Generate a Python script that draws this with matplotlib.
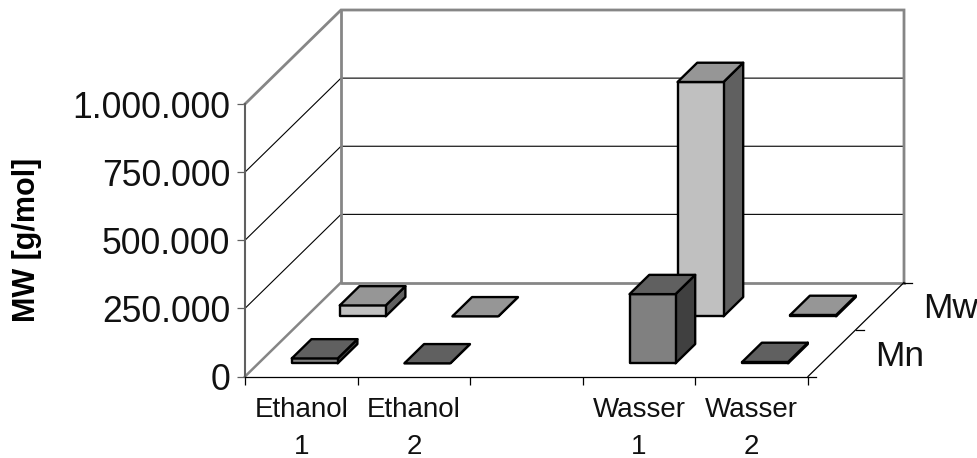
import matplotlib
matplotlib.use("Agg")
import matplotlib.pyplot as plt
from matplotlib.patches import Polygon

categories = ["Ethanol\n1", "Ethanol\n2", "", "Wasser\n1", "Wasser\n2"]
series_names = ["Mn", "Mw"]
mn_values = [18000, 0, None, 254000, 5000]
mw_values = [40000, 0, None, 860000, 5000]
y_ticks = [0, 250000, 500000, 750000, 1000000]
y_tick_labels = ["0", "250.000", "500.000", "750.000", "1.000.000"]

plt.rcParams["font.family"] = ["Liberation Sans", "DejaVu Sans"]
W, H = 978, 458
fig = plt.figure(figsize=(W / 100, H / 100), dpi=100)
L, R, B, T = 245, 808, 376.5, 104
ax = fig.add_axes([L / W, 1 - B / H, (R - L) / W, (B - T) / H])
ax.set_xlim(0, 5)
ax.set_ylim(0, 1000000)
ax.patch.set_alpha(0)

PX_X = (R - L) / 5
PX_Y = (B - T) / 1000000
DEPTH_X, DEPTH_Y = 96 / PX_X, 94 / PX_Y


def proj(x, v, d):
    return (x + d * DEPTH_X, v + d * DEPTH_Y)


GRID = "#000000"
WALL = "#868686"
for v in y_ticks[1:-1]:
    a, b, c = proj(0, v, 0), proj(0, v, 1), proj(5, v, 1)
    ax.plot([a[0], b[0], c[0]], [a[1], b[1], c[1]], color=GRID, lw=0.8, clip_on=False, zorder=1)
# walls
a, b, c, d = proj(0, 1000000, 0), proj(0, 1000000, 1), proj(5, 1000000, 1), proj(5, 0, 1)
e, f, g = proj(0, 0, 1), proj(0, 0, 0), proj(5, 0, 1)
ax.plot([a[0], b[0], c[0], d[0]], [a[1], b[1], c[1], d[1]], color=WALL, lw=2.0, clip_on=False, zorder=2, solid_joinstyle="miter")
ax.plot([b[0], e[0], g[0]], [b[1], e[1], g[1]], color=WALL, lw=2.0, clip_on=False, zorder=2)
ax.plot([f[0], e[0]], [f[1], e[1]], color=WALL, lw=1.8, clip_on=False, zorder=2)

# depth axis on the right of the floor
p0, p1 = proj(5, 0, 0), proj(5, 0, 1)
ax.plot([p0[0], p1[0]], [p0[1], p1[1]], color="black", lw=0.9, clip_on=False, zorder=3)
for d in (0, 0.5, 1):
    q = proj(5, 0, d)
    ax.plot([q[0], q[0] + 8 / PX_X], [q[1], q[1]], color="black", lw=0.9, clip_on=False, zorder=3)
for name, d in zip(series_names, (0.25, 0.75)):
    q = proj(5, 0, d)
    ax.annotate(name, xy=q, xytext=(43, -3), textcoords="offset pixels", fontsize=25.5,
                ha="left", va="center", annotation_clip=False, color="#111111")

# bars
GAP = 0.296
D0, D1 = 0.28, 0.69
face = {"Mn": ("#808080", "#606060", "#404040"), "Mw": ("#c0c0c0", "#969696", "#606060")}


def bar(i, v, s, name):
    x0, x1 = i + GAP, i + 1 - GAP
    d0, d1 = (s + D0) / 2, (s + D1) / 2
    front, top, side = face[name]
    kw = dict(edgecolor="black", lw=1.7, joinstyle="round", clip_on=False, zorder=5 + (1 - s) * 10 + i)
    ax.add_patch(Polygon([proj(x1, 0, d0), proj(x1, v, d0), proj(x1, v, d1), proj(x1, 0, d1)], facecolor=side, **kw))
    ax.add_patch(Polygon([proj(x0, 0, d0), proj(x1, 0, d0), proj(x1, v, d0), proj(x0, v, d0)], facecolor=front, **kw))
    ax.add_patch(Polygon([proj(x0, v, d0), proj(x1, v, d0), proj(x1, v, d1), proj(x0, v, d1)], facecolor=top, **kw))


for s, (name, vals) in enumerate(zip(series_names, (mn_values, mw_values))):
    for i, v in enumerate(vals):
        if v is not None:
            bar(i, v, s, name)

# axes
for sp in ("top", "right"):
    ax.spines[sp].set_visible(False)
ax.spines["left"].set_color("#606060")
ax.spines["left"].set_linewidth(1.5)
ax.spines["bottom"].set_color("black")
ax.spines["bottom"].set_linewidth(0.9)
ax.set_yticks(y_ticks)
ax.set_yticklabels(y_tick_labels, fontsize=25.6, color="#111111")
ax.tick_params(axis="y", length=5.8, width=0.9, color="#606060", pad=5)
ax.set_xticks(range(6))
ax.set_xticklabels([""] * 6)
ax.tick_params(axis="x", which="major", length=5.8, width=0.9, color="black")
ax.set_xticks([i + 0.5 for i in range(5)], minor=True)
ax.set_xticklabels(categories, minor=True, fontsize=20, linespacing=1.55, color="#111111")
ax.tick_params(axis="x", which="minor", length=0, pad=14.5)
fig.text(27 / W, 1 - 240 / H, "MW [g/mol]", rotation=90, fontsize=22, fontweight="bold",
         ha="center", va="center", color="black")

fig.savefig("out.png", dpi=100)
